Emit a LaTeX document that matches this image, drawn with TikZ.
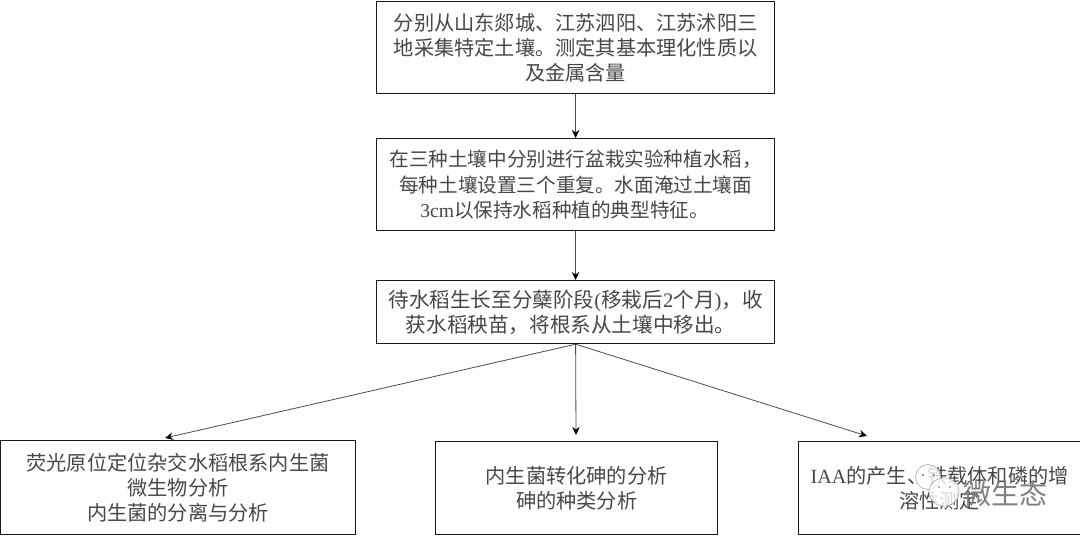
\documentclass[tikz,border=0pt]{standalone}
\usepackage{fontspec}
\setmainfont{Liberation Serif}
\newfontfamily\cjk{Noto Sans CJK SC}
\usetikzlibrary{arrows.meta}
\newcommand{\lat}[1]{{\fontspec{Liberation Serif}#1}}
\tikzset{
 flowbox/.style={draw=black!90,line width=1.2pt,fill=white,align=center,inner sep=0pt,font=\fontsize{20.2pt}{25.3pt}\selectfont\cjk,text=black!72,anchor=north west},
 conn/.style={draw=black!70,line width=0.8pt,-{Stealth[length=8pt,width=7.5pt,color=black]}},
 bubble/.style={draw=black!30,line width=0.7pt,fill=white,fill opacity=0.8},
 eye/.style={fill=black!60,draw=none},
 wmark/.style={text=black!50,inner sep=0pt,font=\fontsize{28pt}{30pt}\selectfont\cjk},
}
\begin{document}
\begin{tikzpicture}[x=1pt,y=-1pt]
\useasboundingbox[fill=white] (0,0) rectangle (1080,537);
\node[flowbox,minimum width=398pt,minimum height=92pt,text width=396pt] (a) at (376,1) {分别从山东郯城、江苏泗阳、江苏沭阳三\\地采集特定土壤。测定其基本理化性质以\\及金属含量};
\node[flowbox,minimum width=398pt,minimum height=92pt,text width=396pt,font=\fontsize{19.6pt}{25.6pt}\selectfont\cjk] (b) at (376,138) {在三种土壤中分别进行盆栽实验种植水稻，\hspace*{10pt}\\每种土壤设置三个重复。水面淹过土壤面\hspace*{3pt}\\\lat{3cm}以保持水稻种植的典型特征。\hspace*{22pt}};
\node[flowbox,minimum width=398pt,minimum height=63pt,text width=396pt,font=\fontsize{20.6pt}{25.3pt}\selectfont\cjk] (c) at (376,280) {待水稻生长至分蘖阶段\lat{(}移栽后\lat{2}个月\lat{)}，收\\获水稻秧苗，将根系从土壤中移出。\hspace*{10pt}};
\node[flowbox,minimum width=355pt,minimum height=94pt,text width=350pt] (d) at (0,440) {荧光原位定位杂交水稻根系内生菌\\微生物分析\\内生菌的分离与分析};
\node[flowbox,minimum width=282pt,minimum height=93pt,text width=278pt] (e) at (435,441) {内生菌转化砷的分析\\砷的种类分析};
\node[flowbox,minimum width=282pt,minimum height=93pt,text width=278pt] (f) at (798,441) {\lat{IAA}的产生、铁载体和磷的增\\溶性测定};
\coordinate (dt) at (165,438);
\coordinate (et) at (576,435);
\coordinate (ft) at (867,436);
\draw[conn] (a.south) -- (b.north);
\draw[conn] (b.south) -- (c.north);
\draw[conn] (c.south) -- (dt);
\draw[conn] (c.south) -- (et);
\draw[conn] (c.south) -- (ft);
% watermark
\draw[bubble] (928,477) circle (12.5);
\fill[eye] (923,475) circle (1.1) (934,475) circle (1.1);
\draw[bubble] (944,492) ellipse (15 and 14);
\fill[eye] (939,487) circle (0.9) (950,487) circle (0.9);
\node[wmark] (w) at (1005,494) {微生态};
\end{tikzpicture}
\end{document}
